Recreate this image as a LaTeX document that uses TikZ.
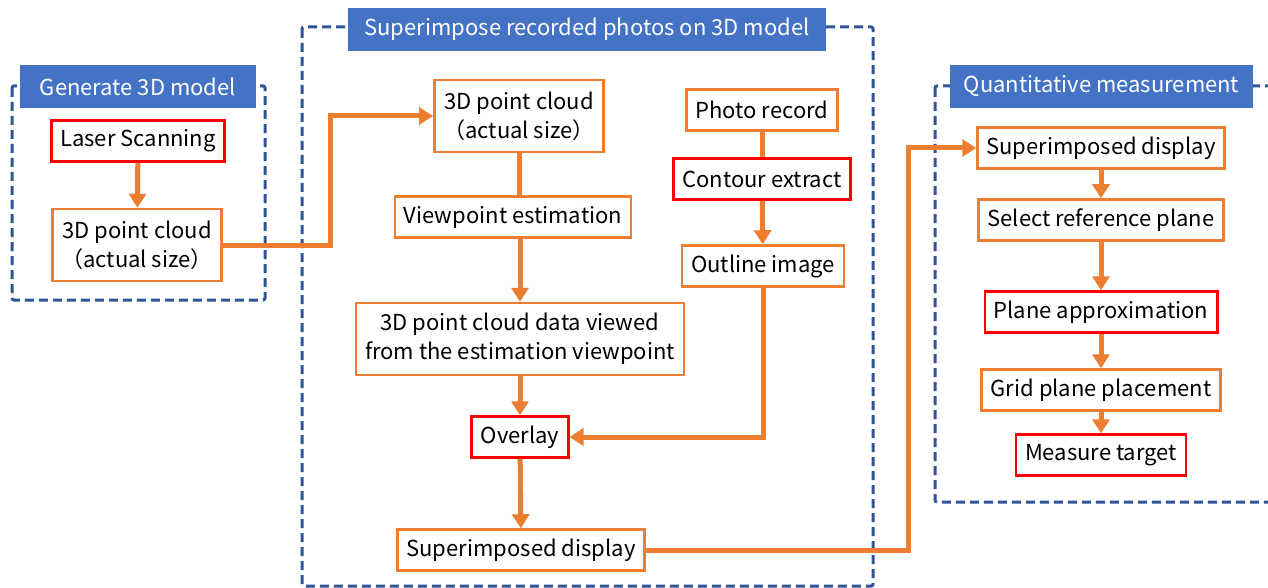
\documentclass[tikz,border=0pt]{standalone}
\usepackage{fontspec}
\setmainfont{Noto Sans CJK JP}
\usetikzlibrary{arrows.meta}
\definecolor{flowOrange}{HTML}{ED7D31}
\definecolor{keyRed}{HTML}{FF0000}
\definecolor{titleBlue}{HTML}{4472C4}
\definecolor{groupBlue}{HTML}{2F5597}
\tikzset{
  stepbox/.style={draw=flowOrange, line width=2.5pt, fill=white, inner xsep=9pt, inner ysep=2pt, minimum height=41pt, align=center},
  keybox/.style={stepbox, draw=keyRed},
  twoline/.style={minimum height=72pt},
  titlebox/.style={fill=titleBlue, text=white, minimum height=43pt, inner sep=0pt},
  groupframe/.style={draw=groupBlue, line width=3pt, dash pattern=on 9pt off 5pt, rounded corners=2pt},
  flow/.style={draw=flowOrange, line width=5pt},
}
\begin{document}
\begin{tikzpicture}[x=1pt, y=-1pt, font=\fontsize{22}{29}\selectfont, >={Triangle[length=14pt,width=17pt]}]
  \useasboundingbox[fill=white] (0,0) rectangle (1268,588);
  % group frames
  \draw[groupframe] (12,86) rectangle (265,300);
  \draw[groupframe] (302,27) rectangle (873,586);
  \draw[groupframe] (935,86) rectangle (1300,502);
  \node[titlebox, minimum width=236pt] (gen) at (138,86.5) {Generate 3D model};
  \node[titlebox, minimum width=478pt] (sup) at (587,29.5) {Superimpose recorded photos on 3D model};
  \node[titlebox, minimum width=303pt] (quant) at (1101.5,86.5) {Quantitative measurement};
  % steps
  \node[keybox] (laser) at (138,141) {Laser Scanning};
  \node[stepbox, twoline] (cloudA) at (137,245) {3D point cloud\\（actual size）};
  \node[stepbox, twoline] (cloudB) at (519,116) {3D point cloud\\（actual size）};
  \node[stepbox] (viewpt) at (513,217) {Viewpoint estimation};
  \node[stepbox, twoline] (viewed) at (520,339) {3D point cloud data viewed\\from the estimation viewpoint};
  \node[keybox] (overlay) at (520,437) {Overlay};
  \node[stepbox] (supA) at (521,550) {Superimposed display};
  \node[stepbox] (photo) at (762,110) {Photo record};
  \node[keybox] (contour) at (762,179) {Contour extract};
  \node[stepbox] (outline) at (763,266) {Outline image};
  \node[stepbox] (supB) at (1101,148) {Superimposed display};
  \node[stepbox] (refpl) at (1101,220) {Select reference plane};
  \node[keybox] (approx) at (1101,312) {Plane approximation};
  \node[stepbox] (grid) at (1101,390) {Grid plane placement};
  \node[keybox] (measure) at (1101,455) {Measure target};
  % connectors
  \draw[flow,->] (laser) -- (cloudA);
  \draw[flow,->] (cloudA.east) -| ([xshift=-103pt]cloudB.west) -- (cloudB.west);
  \draw[flow] (cloudB.south) -- (cloudB.south |- viewpt.north);
  \draw[flow,->] (viewpt.south -| viewed) -- (viewed);
  \draw[flow,->] (viewed) -- (overlay);
  \draw[flow,->] (overlay) -- (supA);
  \draw[flow] (photo) -- (contour);
  \draw[flow,->] (contour) -- (outline);
  \draw[flow,->] (outline.south) |- (overlay.east);
  \draw[flow,->] (supA.east) -| ([xshift=-68pt]supB.west) -- (supB.west);
  \draw[flow,->] (supB) -- (refpl);
  \draw[flow,->] (refpl) -- (approx);
  \draw[flow,->] (approx) -- (grid);
  \draw[flow,->] (grid) -- (measure);
\end{tikzpicture}
\end{document}
